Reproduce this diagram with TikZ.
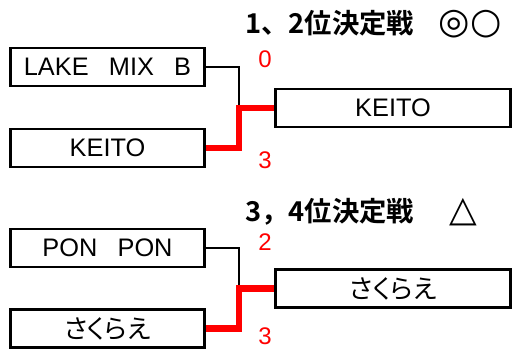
\documentclass[tikz,border=0pt]{standalone}
\usepackage{fontspec}
\setmainfont{Liberation Sans}
\newfontfamily\jpfont{Noto Sans CJK JP}[RawFeature=+palt]
\newfontfamily\headfont{Noto Sans CJK JP}[BoldFont={Noto Sans CJK JP Bold}]
\newfontfamily\markfont{DejaVu Sans}
\newcommand\bigmark[1]{{\markfont\fontsize{27pt}{27pt}\selectfont #1}}
\usetikzlibrary{calc}
\tikzstyle{team} = [rectangle, minimum width=146pt, minimum height=28.5pt, inner sep=0pt, text centered, draw=black, line width=2.2pt, font=\fontsize{19pt}{21pt}\selectfont]
\tikzstyle{winner} = [team, minimum width=176pt]
\tikzstyle{kana} = [font=\jpfont\fontsize{19.5pt}{21pt}\selectfont]
\tikzstyle{title} = [anchor=base west, inner sep=0pt, font=\headfont\bfseries\fontsize{20.5pt}{23pt}\selectfont]
\tikzstyle{score} = [text=red, inner sep=0pt, font=\fontsize{18pt}{20pt}\selectfont]
\tikzstyle{wire} = [line width=1.6pt]
\tikzstyle{win} = [line width=5pt, red]

\begin{document}
\begin{tikzpicture}[x=0.75pt, y=-0.75pt]
    \useasboundingbox (0,0) rectangle (530,349);

    % 1, 2 place final
    \node (titleA) [title] at (245,34) {1、2位決定戦\hspace{0.9em}\bigmark{◎○}};
    \node (lake) [team] at (107.5,67) {LAKE\hspace{0.8em}MIX\hspace{0.8em}B};
    \node (keitoA) [team] at (107.5,148) {KEITO};
    \node (keitoB) [winner] at (393,108) {KEITO};
    \node (scoreA) [score] at (265,59) {0};
    \node (scoreB) [score] at (265,160) {3};
    \coordinate (joinA) at (239,108);

    \draw [wire] (lake.east) -| ($(joinA)+(0,-3)$);
    \draw [win] (keitoA.east) -| (joinA) -- (keitoB.west);

    % 3, 4 place final
    \node (titleB) [title] at (245,221) {3，4位決定戦\hspace{1.3em}\bigmark{△}};
    \node (pon) [team] at (107.5,248) {PON\hspace{0.8em}PON};
    \node (sakuraA) [team, kana] at (107.5,328.5) {さくらえ};
    \node (sakuraB) [winner, kana] at (393,288.5) {さくらえ};
    \node (scoreC) [score] at (265,242) {2};
    \node (scoreD) [score] at (265,336) {3};
    \coordinate (joinB) at (239,288.5);

    \draw [wire] (pon.east) -| ($(joinB)+(0,-3)$);
    \draw [win] (sakuraA.east) -| (joinB) -- (sakuraB.west);

\end{tikzpicture}
\end{document}
